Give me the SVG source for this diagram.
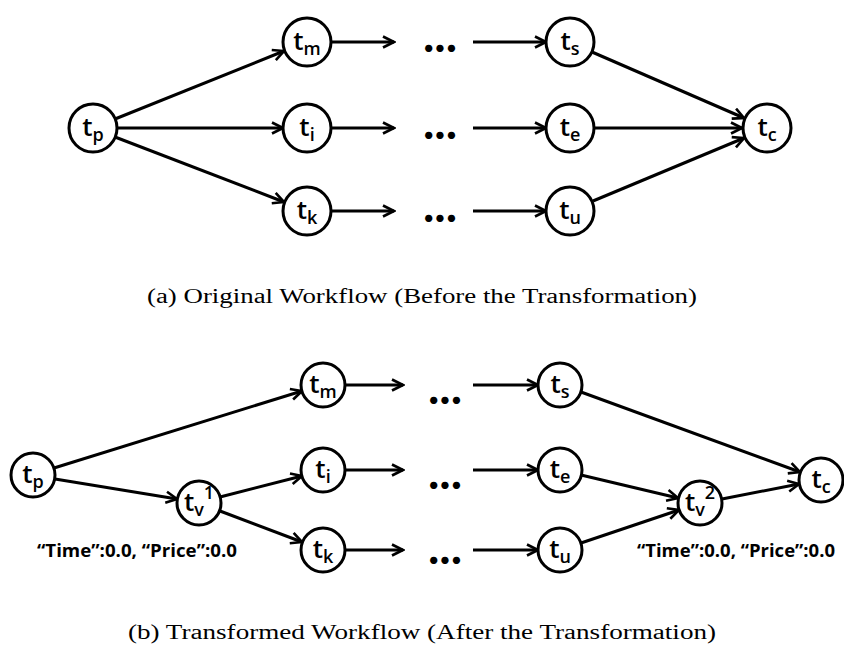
<svg xmlns="http://www.w3.org/2000/svg" width="844" height="660" viewBox="0 0 844 660">
<style>
.n circle{fill:#fff;stroke:#000;stroke-width:3}
.n text{font-family:"Open Sans",Lato,"Liberation Sans",sans-serif;font-weight:600;font-size:26px;fill:#000;text-anchor:middle}
.s{font-size:18px;font-weight:600}
.e line{stroke:#000;stroke-width:3;marker-end:url(#ah)}
.dots{font-family:Lato,"Liberation Sans",sans-serif;font-weight:bold;font-size:48px;fill:#000;text-anchor:middle}
.cap{font-family:"Liberation Serif",serif;font-size:20px;fill:#000}
.lab{font-family:"Open Sans","Liberation Sans",sans-serif;font-weight:bold;font-size:17px;fill:#000}
</style>
<defs>
<marker id="ah" viewBox="0 0 14 14" refX="12.5" refY="7" markerWidth="14" markerHeight="14" markerUnits="userSpaceOnUse" orient="auto">
<path d="M1.5,1.5 L12.5,7 L1.5,12.5" fill="none" stroke="#000" stroke-width="2.6"/>
</marker>
</defs>
<rect width="844" height="660" fill="#fff"/>

<g id="connectors" class="e">
<!-- (a) -->
<line x1="115" y1="119" x2="284" y2="51"/>
<line x1="117" y1="128" x2="283" y2="128"/>
<line x1="115" y1="137" x2="284" y2="202"/>
<line x1="331" y1="42" x2="394" y2="42"/>
<line x1="331" y1="128" x2="394" y2="128"/>
<line x1="331" y1="211" x2="394" y2="211"/>
<line x1="473" y1="42" x2="546" y2="42"/>
<line x1="473" y1="128" x2="546" y2="128"/>
<line x1="473" y1="211" x2="546" y2="211"/>
<line x1="592" y1="52" x2="744" y2="118"/>
<line x1="594" y1="128" x2="742" y2="128"/>
<line x1="593" y1="201" x2="744" y2="138"/>
<!-- (b) -->
<line x1="54" y1="468" x2="302" y2="391"/>
<line x1="55" y1="479" x2="177" y2="499"/>
<line x1="220" y1="497" x2="302" y2="476"/>
<line x1="220" y1="511" x2="302" y2="542"/>
<line x1="345" y1="385" x2="403" y2="385"/>
<line x1="345" y1="470" x2="403" y2="470"/>
<line x1="345" y1="550" x2="403" y2="550"/>
<line x1="473" y1="385" x2="538" y2="385"/>
<line x1="473" y1="470" x2="538" y2="470"/>
<line x1="473" y1="550" x2="538" y2="550"/>
<line x1="581" y1="392" x2="800" y2="472"/>
<line x1="581" y1="475" x2="678" y2="498"/>
<line x1="581" y1="543" x2="679" y2="510"/>
<line x1="722" y1="499" x2="799" y2="484"/>
</g>

<!-- (a) nodes -->
<g id="a_tp" class="n"><circle cx="93" cy="128" r="24"/><text x="93" y="136">t<tspan class="s" dy="5">p</tspan></text></g>
<g id="a_tm" class="n"><circle cx="307" cy="42" r="24"/><text x="307" y="50">t<tspan class="s" dy="5">m</tspan></text></g>
<g id="a_ti" class="n"><circle cx="307" cy="128" r="24"/><text x="307" y="136">t<tspan class="s" dy="5">i</tspan></text></g>
<g id="a_tk" class="n"><circle cx="307" cy="211" r="24"/><text x="307" y="219">t<tspan class="s" dy="5">k</tspan></text></g>
<g id="a_ts" class="n"><circle cx="570" cy="42" r="24"/><text x="570" y="50">t<tspan class="s" dy="5">s</tspan></text></g>
<g id="a_te" class="n"><circle cx="570" cy="128" r="24"/><text x="570" y="136">t<tspan class="s" dy="5">e</tspan></text></g>
<g id="a_tu" class="n"><circle cx="570" cy="211" r="24"/><text x="570" y="219">t<tspan class="s" dy="5">u</tspan></text></g>
<g id="a_tc" class="n"><circle cx="767" cy="128" r="24"/><text x="767" y="136">t<tspan class="s" dy="5">c</tspan></text></g>
<g id="a_dots">
<text class="dots" x="440" y="52">...</text>
<text class="dots" x="440" y="139">...</text>
<text class="dots" x="440" y="222">...</text>
</g>
<text id="cap_a" class="cap" x="147" y="303" textLength="550" lengthAdjust="spacingAndGlyphs">(a) Original Workflow (Before the Transformation)</text>

<!-- (b) nodes -->
<g id="b_tp" class="n"><circle cx="33" cy="475" r="22"/><text x="33" y="483">t<tspan class="s" dy="5">p</tspan></text></g>
<g id="b_tv1" class="n"><circle cx="199" cy="503" r="22"/><text x="199" y="511">t<tspan class="s" dy="5">v</tspan><tspan class="s" dy="-17">1</tspan></text></g>
<g id="b_tm" class="n"><circle cx="323" cy="385" r="22"/><text x="323" y="393">t<tspan class="s" dy="5">m</tspan></text></g>
<g id="b_ti" class="n"><circle cx="323" cy="470" r="22"/><text x="323" y="478">t<tspan class="s" dy="5">i</tspan></text></g>
<g id="b_tk" class="n"><circle cx="323" cy="550" r="22"/><text x="323" y="558">t<tspan class="s" dy="5">k</tspan></text></g>
<g id="b_ts" class="n"><circle cx="560" cy="385" r="22"/><text x="560" y="393">t<tspan class="s" dy="5">s</tspan></text></g>
<g id="b_te" class="n"><circle cx="560" cy="470" r="22"/><text x="560" y="478">t<tspan class="s" dy="5">e</tspan></text></g>
<g id="b_tu" class="n"><circle cx="560" cy="550" r="22"/><text x="560" y="558">t<tspan class="s" dy="5">u</tspan></text></g>
<g id="b_tv2" class="n"><circle cx="700" cy="503" r="22"/><text x="700" y="511">t<tspan class="s" dy="5">v</tspan><tspan class="s" dy="-17">2</tspan></text></g>
<g id="b_tc" class="n"><circle cx="821" cy="480" r="22"/><text x="821" y="488">t<tspan class="s" dy="5">c</tspan></text></g>
<g id="b_dots">
<text class="dots" x="445" y="404">...</text>
<text class="dots" x="445" y="489">...</text>
<text class="dots" x="445" y="564">...</text>
</g>
<text id="lab1" class="lab" x="37" y="557" textLength="200" lengthAdjust="spacingAndGlyphs">“Time”:0.0, “Price”:0.0</text>
<text id="lab2" class="lab" x="637" y="557" textLength="198" lengthAdjust="spacingAndGlyphs">“Time”:0.0, “Price”:0.0</text>
<text id="cap_b" class="cap" x="128" y="639" textLength="588" lengthAdjust="spacingAndGlyphs">(b) Transformed Workflow (After the Transformation)</text>
</svg>
